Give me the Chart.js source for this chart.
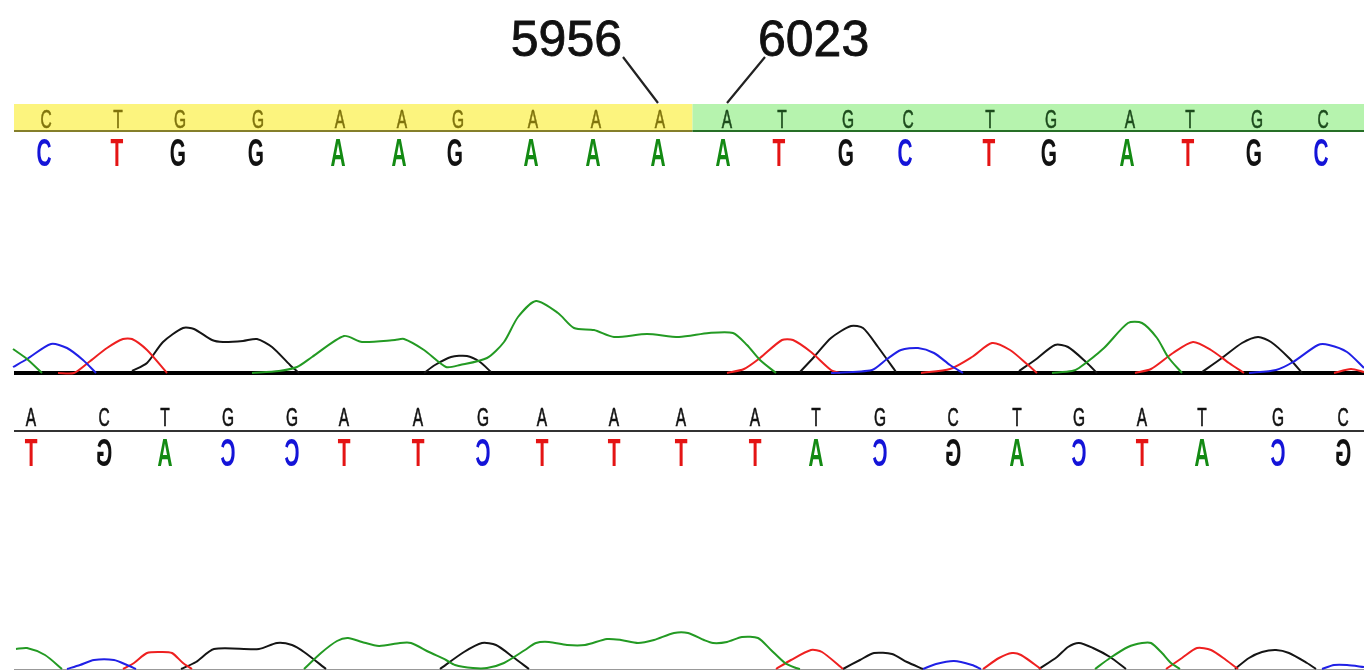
<!DOCTYPE html>
<html>
<head>
<meta charset="utf-8">
<script src="https://cdn.jsdelivr.net/npm/chart.js@4"></script>
<style>
  html, body { margin: 0; padding: 0; background: #fff; }
  #wrap { width: 1364px; height: 670px; }
</style>
</head>
<body>
<div id="wrap"><canvas id="trace" width="1364" height="670"></canvas></div>
<script>
// Reference sequence (band) and base calls, top strand
const topBases = ['C','T','G','G','A','A','G','A','A','A','A','T','G','C','T','G','A','T','G','C'];
const topRefPos = [46,118,180,258,340,402,458,533,596,660,727,782,848,908,990,1051,1130,1190,1257,1323];
const topCallPos = [44,117,178,256,338,399,455,531,593,658,723,779,846,905,989,1049,1127,1188,1254,1321];

// Second read, shown as reverse complement
const revBases = ['A','C','T','G','G','A','A','G','A','A','A','A','T','G','C','T','G','A','T','G','C'];
const revPos = [31,104,165,228,292,344,418,483,542,614,681,755,816,880,953,1017,1079,1142,1202,1278,1343];

// Junction labels and the bases they point at
const junctionLabels = ['5956', '6023'];
const junctionIndex = [9, 10];

// Top trace, peaks as [position, signal]
const topA = [
  [[13,24],[27,14],[42,0]],
  [[252,0],[279,2],[297,6],[312,16],[344,37],[362,31],[395,33],[404,34],[424,23],[446,6],[460,8],[487,15],[504,31],[518,56],[536,72],[558,60],[574,45],[594,43],[614,36],[647,39],[679,36],[709,40],[733,40],[747,28],[760,13],[776,0]],
  [[1052,0],[1072,2],[1079,5],[1104,25],[1128,50],[1142,50],[1157,35],[1168,16],[1182,0]]
];
const topC = [
  [[13,6],[27,14],[51,29],[67,25],[83,13],[96,0]],
  [[831,0],[872,3],[887,14],[901,23],[918,25],[934,20],[950,8],[963,0]],
  [[1249,0],[1276,3],[1293,11],[1318,28],[1329,28],[1347,21],[1364,5]]
];
const topT = [
  [[58,0],[74,0],[89,11],[107,25],[123,34],[132,34],[147,23],[167,0]],
  [[727,0],[744,4],[760,15],[782,33],[793,33],[811,21],[831,3],[840,0]],
  [[921,0],[950,4],[972,16],[992,30],[1010,23],[1028,8],[1037,0]],
  [[1135,0],[1151,4],[1173,20],[1193,31],[1211,23],[1229,10],[1244,0]],
  [[1334,0],[1351,4],[1364,1]]
];
const topG = [
  [[132,2],[147,10],[163,31],[183,45],[194,44],[212,33],[223,31],[243,32],[257,34],[272,26],[290,8],[299,0]],
  [[424,0],[435,8],[451,16],[467,17],[480,11],[491,1]],
  [[800,1],[814,16],[831,35],[851,47],[863,45],[878,26],[896,1]],
  [[1019,2],[1035,13],[1055,28],[1068,26],[1086,11],[1097,0]],
  [[1202,1],[1222,15],[1242,30],[1258,36],[1271,31],[1289,15],[1302,0]]
];

// Bottom trace
const botA = [
  [[16,20],[27,21],[45,14],[62,0]],
  [[304,0],[321,16],[337,28],[348,31],[362,27],[379,23],[400,26],[411,26],[429,17],[446,9],[455,4],[473,1],[487,1],[504,6],[525,19],[536,26],[549,27],[567,24],[585,24],[607,30],[621,29],[638,26],[654,29],[674,36],[688,36],[704,29],[713,26],[727,27],[742,32],[758,31],[771,19],[785,6],[796,1],[800,0]],
  [[1095,0],[1110,11],[1128,22],[1142,26],[1151,26],[1162,16],[1171,6],[1180,0]]
];
const botC = [
  [[67,0],[80,4],[94,9],[114,9],[127,4],[136,0]],
  [[923,0],[936,5],[954,8],[972,4],[981,0]],
  [[1322,0],[1334,4],[1347,4],[1364,2]]
];
const botT = [
  [[123,0],[134,6],[147,16],[161,17],[172,16],[183,6],[192,0]],
  [[776,0],[791,9],[811,19],[822,17],[843,0]],
  [[983,0],[999,11],[1012,16],[1021,14],[1041,0]],
  [[1166,0],[1182,11],[1197,21],[1211,19],[1226,9],[1238,0]]
];
const botG = [
  [[181,0],[196,7],[214,20],[259,20],[277,26],[292,24],[304,17],[326,0]],
  [[440,0],[464,17],[482,26],[496,24],[513,12],[529,0]],
  [[843,0],[860,9],[874,16],[892,15],[907,7],[923,0]],
  [[1039,0],[1057,12],[1068,22],[1079,26],[1093,21],[1110,12],[1126,0]],
  [[1235,0],[1249,11],[1262,17],[1276,19],[1289,16],[1307,6],[1316,0]]
];

const W = 1364, H = 670;
const TOP_BASE = 373, BOT_BASE = 669;

const baseColor = { A: '#138a13', C: '#1414d8', G: '#111111', T: '#e41414' };
const traceColor = { A: '#239a23', C: '#2020e6', G: '#151515', T: '#ee2020' };
const complement = { A: 'T', T: 'A', C: 'G', G: 'C' };

// join peaks with gaps so the trace does not run along the baseline
function toData(peaks) {
  const out = [];
  peaks.forEach(p => {
    p.forEach(([x, y]) => out.push({ x: x, y: y }));
    out.push({ x: p[p.length - 1][0] + 0.5, y: null });
  });
  return out;
}

function traceSet(peaks, base, axis) {
  return {
    data: toData(peaks),
    yAxisID: axis,
    borderColor: traceColor[base],
    borderWidth: 2,
    pointRadius: 0,
    tension: 0.25,
    spanGaps: false,
    fill: false
  };
}

function letter(ctx, ch, x, baseline, size, sx, color, bold, mirror) {
  ctx.save();
  ctx.translate(x, baseline);
  ctx.scale(mirror ? -sx : sx, 1);
  ctx.font = (bold ? 'bold ' : '') + size + 'px "Liberation Sans", Arial, sans-serif';
  ctx.fillStyle = color;
  ctx.textAlign = 'center';
  ctx.textBaseline = 'alphabetic';
  ctx.fillText(ch, 0, 0);
  if (!bold) {
    // thin letters in the picture are a little heavier
    ctx.strokeStyle = color;
    ctx.lineWidth = 0.6;
    ctx.strokeText(ch, 0, 0);
  }
  ctx.restore();
}

const decor = {
  id: 'decor',
  beforeDatasetsDraw(chart) {
    const ctx = chart.ctx;
    const x = chart.scales.x;
    const px = v => x.getPixelForValue(v);
    const left = px(14), right = px(W);
    const split = (px(topRefPos[9]) + px(topRefPos[10])) / 2 - 1;

    ctx.save();
    // reference bands
    ctx.fillStyle = '#fcf47e';
    ctx.fillRect(left, 104, split - left, 27);
    ctx.fillStyle = '#b6f3ae';
    ctx.fillRect(split, 104, right - split, 27);
    ctx.fillStyle = '#857f2a';
    ctx.fillRect(left, 130, split - left, 2);
    ctx.fillStyle = '#266f26';
    ctx.fillRect(split, 130, right - split, 2);

    topBases.forEach((b, i) => {
      const c = i < 10 ? '#7f730c' : '#1c4a1c';
      letter(ctx, b, px(topRefPos[i]), 128, 25, 0.62, c, false, false);
      letter(ctx, b, px(topCallPos[i]), 166, 38, 0.55, baseColor[b], true, false);
    });

    // junction labels
    ctx.strokeStyle = '#222';
    ctx.lineWidth = 2.2;
    ctx.font = '50px "Liberation Sans", Arial, sans-serif';
    ctx.fillStyle = '#111';
    ctx.textBaseline = 'alphabetic';
    const a0 = px(topRefPos[junctionIndex[0]]);
    const a1 = px(topRefPos[junctionIndex[1]]);
    ctx.beginPath();
    ctx.moveTo(a0 - 2, 103); ctx.lineTo(a0 - 37, 57);
    ctx.moveTo(a1, 103); ctx.lineTo(a1 + 38, 57);
    ctx.stroke();
    ctx.lineWidth = 0.8;
    ctx.strokeStyle = '#111';
    ctx.textAlign = 'right';
    ctx.fillText(junctionLabels[0], a0 - 38, 56);
    ctx.strokeText(junctionLabels[0], a0 - 38, 56);
    ctx.textAlign = 'left';
    ctx.fillText(junctionLabels[1], a1 + 31, 56);
    ctx.strokeText(junctionLabels[1], a1 + 31, 56);

    // top baseline
    ctx.fillStyle = '#000';
    ctx.fillRect(left, TOP_BASE - 2, right - left, 4);

    // reverse read
    ctx.fillStyle = '#333';
    ctx.fillRect(left, 430, right - left, 2);
    revBases.forEach((b, i) => {
      letter(ctx, b, px(revPos[i]), 426, 25, 0.62, '#111', false, false);
      const cb = complement[b];
      letter(ctx, cb, px(revPos[i]), 466, 38, 0.55, baseColor[cb], true, true);
    });

    // bottom baseline
    ctx.fillStyle = '#999';
    ctx.fillRect(left, BOT_BASE, right - left, 1);
    ctx.restore();
  }
};

new Chart(document.getElementById('trace'), {
  type: 'line',
  data: {
    datasets: [
      traceSet(topA, 'A', 'yTop'), traceSet(topC, 'C', 'yTop'),
      traceSet(topT, 'T', 'yTop'), traceSet(topG, 'G', 'yTop'),
      traceSet(botA, 'A', 'yBot'), traceSet(botC, 'C', 'yBot'),
      traceSet(botT, 'T', 'yBot'), traceSet(botG, 'G', 'yBot')
    ]
  },
  options: {
    responsive: false,
    animation: false,
    layout: { padding: 0 },
    plugins: { legend: { display: false }, tooltip: { enabled: false } },
    scales: {
      x: { type: 'linear', min: 0, max: W, display: false },
      yTop: { type: 'linear', position: 'left', min: -(H - TOP_BASE), max: TOP_BASE, display: false },
      yBot: { type: 'linear', position: 'left', min: -(H - BOT_BASE), max: BOT_BASE, display: false }
    }
  },
  plugins: [decor]
});
</script>
</body>
</html>
